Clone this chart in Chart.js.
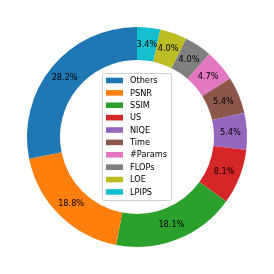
<!DOCTYPE html>
<html>
<head>
<meta charset="utf-8">
<script src="https://cdn.jsdelivr.net/npm/chart.js@4"></script>
<style>
  html,body{margin:0;padding:0;background:#fff;}
  #wrap{width:274px;height:274px;}
</style>
</head>
<body>
<div id="wrap"><canvas id="pie" width="274" height="274"></canvas></div>
<script>
// --- Data (legend order, counterclockwise from top) ---
const categories = ['Others','PSNR','SSIM','US','NIQE','Time','#Params','FLOPs','LOE','LPIPS'];
const shares = [28.2, 18.8, 18.1, 8.1, 5.4, 5.4, 4.7, 4.0, 4.0, 3.4];
const colors = ['#1f77b4','#ff7f0e','#2ca02c','#d62728','#9467bd','#8c564b','#e377c2','#7f7f7f','#bcbd22','#17becf'];

// chart.js goes clockwise, so feed it reversed
const revLabels = categories.slice().reverse();
const revShares = shares.slice().reverse();
const revColors = colors.slice().reverse();

const FONT = '8.2px "DejaVu Sans"';

// percentage text in the middle of the ring
const pctLabels = {
  id:'pctLabels',
  afterDatasetsDraw(chart){
    const ctx = chart.ctx;
    const meta = chart.getDatasetMeta(0);
    ctx.save();
    ctx.font = FONT;
    ctx.fillStyle = '#000';
    ctx.textAlign = 'center';
    ctx.textBaseline = 'middle';
    meta.data.forEach((arc,i)=>{
      const p = arc.getProps(['x','y','startAngle','endAngle','innerRadius','outerRadius'],true);
      const a = (p.startAngle+p.endAngle)/2;
      const r = (p.innerRadius+p.outerRadius)/2;
      ctx.fillText(revShares[i].toFixed(1)+'%', p.x+Math.cos(a)*r, p.y+Math.sin(a)*r+0.5);
    });
    ctx.restore();
  }
};

// legend box in the hole
const centerLegend = {
  id:'centerLegend',
  afterDraw(chart){
    const ctx = chart.ctx;
    const x0 = 102.5, y0 = 73.5, w = 69, h = 127, rowH = 12.38;
    ctx.save();
    ctx.fillStyle = 'rgba(255,255,255,0.8)';
    ctx.strokeStyle = '#d0d0d0';
    ctx.lineWidth = 1;
    ctx.beginPath();
    ctx.roundRect(x0, y0, w, h, 2);
    ctx.fill();
    ctx.stroke();
    ctx.font = FONT;
    ctx.textBaseline = 'middle';
    ctx.textAlign = 'left';
    categories.forEach((c,i)=>{
      const cy = 80.5 + i*rowH;
      ctx.fillStyle = colors[i];
      ctx.fillRect(106, cy-2.8, 17, 5.6);
      ctx.fillStyle = '#000';
      ctx.fillText(c, 130, cy+0.5);
    });
    ctx.restore();
  }
};

new Chart(document.getElementById('pie').getContext('2d'),{
  type:'doughnut',
  data:{labels:revLabels,datasets:[{data:revShares,backgroundColor:revColors,borderWidth:0}]},
  options:{
    responsive:false,
    animation:false,
    cutout:'70%',
    layout:{padding:27},
    plugins:{legend:{display:false},tooltip:{enabled:false}}
  },
  plugins:[pctLabels,centerLegend]
});
</script>
</body>
</html>
